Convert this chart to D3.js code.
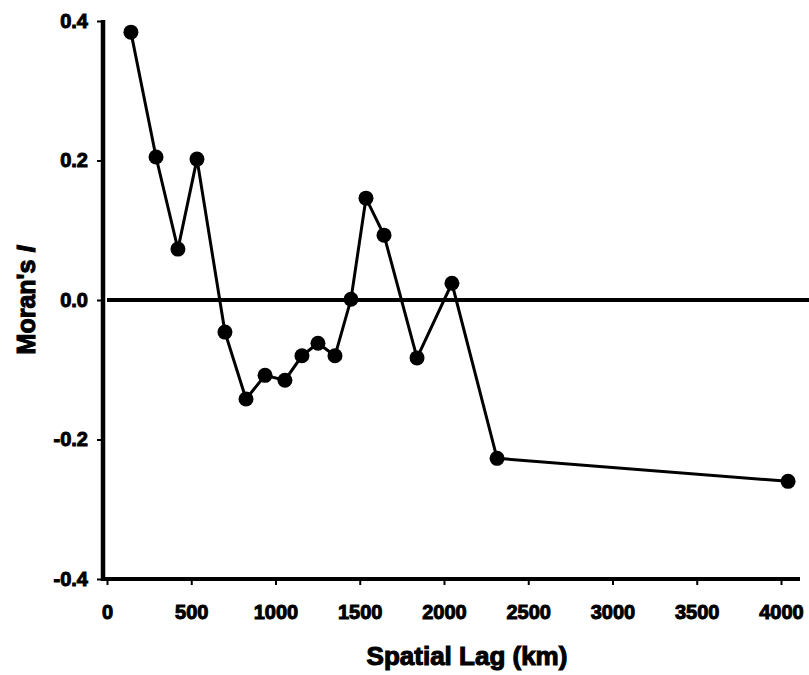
<!DOCTYPE html>
<html>
<head>
<meta charset="utf-8">
<script src="https://cdn.jsdelivr.net/npm/d3@7"></script>
<style>
  body { margin: 0; background: #fff; }
  text { font-family: "Liberation Sans", Arial, sans-serif; font-weight: bold; fill: #000; }
</style>
</head>
<body>
<div id="chart"></div>
<script>
const lags = [142, 291, 421, 534, 700, 825, 938, 1056, 1157, 1252, 1353, 1448, 1537, 1644, 1840, 2047, 2315, 4042];
const moransI = [0.384, 0.205, 0.073, 0.202, -0.046, -0.142, -0.108, -0.115, -0.080, -0.062, -0.080, 0.001, 0.146, 0.093, -0.083, 0.024, -0.227, -0.260];
const xTicks = [0, 500, 1000, 1500, 2000, 2500, 3000, 3500, 4000];
const yTicks = [0.4, 0.2, 0.0, -0.2, -0.4];

const width = 809, height = 675;
const svg = d3.select("#chart").append("svg")
    .attr("width", width)
    .attr("height", height);

const x = d3.scaleLinear().domain([0, 4000]).range([107, 781]);
const y = d3.scaleLinear().domain([-0.4, 0.4]).range([579, 21]);

// axes
const xAxis = svg.append("g")
    .attr("transform", `translate(0,${y(-0.4)})`)
    .call(d3.axisBottom(x).tickValues(xTicks).tickSize(6).tickPadding(20)
        .tickFormat(d => String(d)));
xAxis.select(".domain").remove();
xAxis.append("line")
    .attr("x1", x(0) - 2).attr("x2", 800)
    .attr("stroke", "#000").attr("stroke-width", 4);

const yAxis = svg.append("g")
    .attr("transform", `translate(${x(0) - 4},0)`)
    .call(d3.axisLeft(y).tickValues(yTicks).tickSize(6).tickPadding(9)
        .tickFormat(d => d3.format(".1f")(d).replace("−", "-")));
yAxis.select(".domain").remove();
yAxis.append("line")
    .attr("y1", y(0.4) - 1).attr("y2", y(-0.4) + 2)
    .attr("stroke", "#000").attr("stroke-width", 4.5);

svg.selectAll(".tick line").attr("stroke", "#000").attr("stroke-width", 2);
svg.selectAll(".tick text")
    .attr("font-size", 20)
    .attr("font-family", "Liberation Sans, Arial, sans-serif")
    .attr("font-weight", "bold")
    .attr("stroke", "#000")
    .attr("stroke-width", 1);

// zero reference line
svg.append("line")
    .attr("x1", x(0)).attr("x2", width)
    .attr("y1", y(0)).attr("y2", y(0))
    .attr("stroke", "#000").attr("stroke-width", 4);

// series
const points = lags.map((d, i) => ({ lag: d, value: moransI[i] }));
svg.append("path")
    .datum(points)
    .attr("fill", "none")
    .attr("stroke", "#000")
    .attr("stroke-width", 3)
    .attr("d", d3.line().x(d => x(d.lag)).y(d => y(d.value)));

svg.selectAll(".dot")
    .data(points)
    .enter().append("circle")
    .attr("class", "dot")
    .attr("cx", d => x(d.lag))
    .attr("cy", d => y(d.value))
    .attr("r", 7.5)
    .attr("fill", "#000");

// axis titles
svg.append("text")
    .attr("x", 467).attr("y", 665)
    .attr("text-anchor", "middle")
    .attr("font-size", 26)
    .attr("stroke", "#000").attr("stroke-width", 1.1)
    .text("Spatial Lag (km)");

const yTitle = svg.append("text")
    .attr("transform", `translate(35,${y(0)}) rotate(-90)`)
    .attr("text-anchor", "middle")
    .attr("font-size", 25)
    .attr("stroke", "#000").attr("stroke-width", 1.1);
yTitle.append("tspan").text("Moran's ");
yTitle.append("tspan").style("font-style", "italic").text("I");
</script>
</body>
</html>
